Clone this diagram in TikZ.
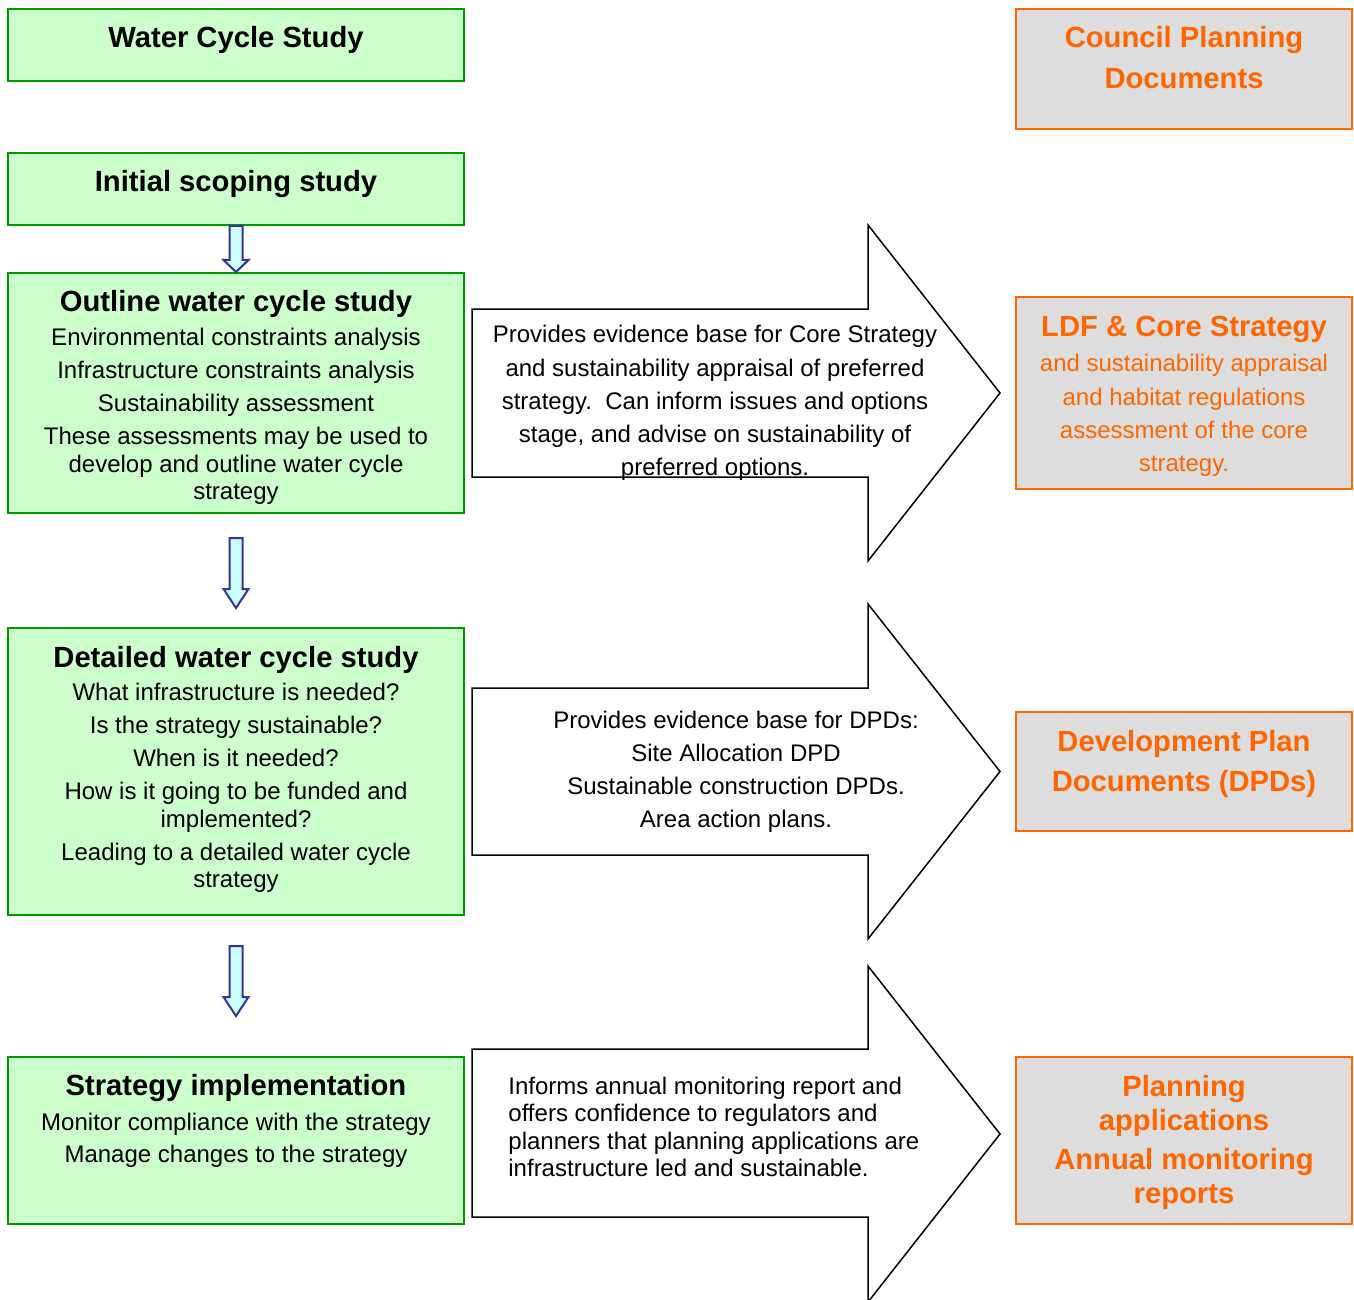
\documentclass[tikz,border=0pt]{standalone}
\usepackage{fontspec}
\setmainfont{Liberation Sans}
\usetikzlibrary{calc,fit}
\definecolor{boxgreen}{HTML}{CCFFCC}
\definecolor{linegreen}{HTML}{009900}
\definecolor{orng}{HTML}{FF6600}
\definecolor{boxgray}{HTML}{DDDDDD}
\definecolor{arrfill}{HTML}{CCFFFF}
\definecolor{arrline}{HTML}{333399}
\newcommand{\myDownArrow}[3]{%
  \draw[smallarr] ($(#1)+(-6.5,0)$) -- ($(#1)+(6.5,0)$) -- ($(#2)+(6.5,-#3)$) -- ($(#2)+(12.5,-#3)$) -- (#2) -- ($(#2)+(-12.5,-#3)$) -- ($(#2)+(-6.5,-#3)$) -- cycle;}
\begin{document}
\begin{tikzpicture}[x=0.5pt,y=-0.5pt,
  greenbox/.style={draw=linegreen, fill=boxgreen, line width=1pt, inner sep=0pt},
  graybox/.style={draw=orng, fill=boxgray, line width=1pt, inner sep=0pt},
  ttl/.style={font=\fontsize{14.6}{17}\selectfont\bfseries, anchor=base, inner sep=0pt},
  body/.style={font=\fontsize{12}{14}\selectfont, anchor=base, inner sep=0pt},
  otitle/.style={ttl, text=orng},
  obody/.style={body, text=orng},
  bigarrow/.style={draw=black, fill=white, line width=0.75pt, line join=miter},
  smallarr/.style={draw=arrline, fill=arrfill, line width=1pt, line join=miter}]
\useasboundingbox (0,0) rectangle (1354,1300);

% left column boxes
\node[greenbox, fit={(8,9) (464,81)}] (b1) {};
\node[greenbox, fit={(8,153) (464,225)}] (b2) {};
\node[greenbox, fit={(8,273) (464,513)}] (b3) {};
\node[greenbox, fit={(8,628) (464,915)}] (b4) {};
\node[greenbox, fit={(8,1057) (464,1224)}] (b5) {};

% right column boxes
\node[graybox, fit={(1016,9) (1352,129)}] (r1) {};
\node[graybox, fit={(1016,297) (1352,489)}] (r2) {};
\node[graybox, fit={(1016,712) (1352,831)}] (r3) {};
\node[graybox, fit={(1016,1057) (1352,1224)}] (r4) {};

% big arrows
\draw[bigarrow] (472,309) -- (868,309) -- (868,225) -- (1000,393) -- (868,561) -- (868,477) -- (472,477) -- cycle;
\draw[bigarrow] (472,688) -- (868,688) -- (868,604) -- (1000,771.5) -- (868,939) -- (868,855) -- (472,855) -- cycle;
\draw[bigarrow] (472,1049) -- (868,1049) -- (868,966) -- (1000,1134) -- (868,1302) -- (868,1217) -- (472,1217) -- cycle;

% small down arrows
\coordinate (a2s) at ($(b3.south)+(0,24)$);
\coordinate (a2e) at ($(b4.north)+(0,-19)$);
\coordinate (a3s) at ($(b4.south)+(0,30)$);
\coordinate (a3e) at ($(b5.north)+(0,-40)$);
\myDownArrow{b2.south}{b3.north}{12}
\myDownArrow{a2s}{a2e}{19}
\myDownArrow{a3s}{a3e}{19}

% left texts
\node[ttl] (t1) at (236,48) {Water Cycle Study};
\node[ttl] (t2) at (236,192) {Initial scoping study};
\node[ttl] (t3) at (236,312) {Outline water cycle study};
\foreach \yy/\tx [count=\i] in {345/{Environmental constraints analysis},378/{Infrastructure constraints analysis},411/{Sustainability assessment},444/{These assessments may be used to},472/{develop and outline water cycle},499/{strategy}}
  \node[body] (t3l\i) at (236,\yy) {\tx};
\node[ttl] (t4) at (236,667) {Detailed water cycle study};
\foreach \yy/\tx [count=\i] in {700/{What infrastructure is needed?},733/{Is the strategy sustainable?},766/{When is it needed?},799/{How is it going to be funded and},827/{implemented?},860/{Leading to a detailed water cycle},887/{strategy}}
  \node[body] (t4l\i) at (236,\yy) {\tx};
\node[ttl] (t5) at (236,1095) {Strategy implementation};
\node[body] (t5l1) at (236,1130) {Monitor compliance with the strategy};
\node[body] (t5l2) at (236,1162) {Manage changes to the strategy};

% right texts
\node[otitle] (s1a) at (1184,48) {Council Planning};
\node[otitle] (s1b) at (1184,89) {Documents};
\node[otitle] (s2) at (1184,336) {LDF \& Core Strategy};
\foreach \yy/\tx [count=\i] in {371/{and sustainability appraisal},405/{and habitat regulations},438/{assessment of the core},471/{strategy.}}
  \node[obody] (s2l\i) at (1184,\yy) {\tx};
\node[otitle] (s3a) at (1184,751) {Development Plan};
\node[otitle] (s3b) at (1184,791) {Documents (DPDs)};
\foreach \yy/\tx [count=\i] in {1096/{Planning},1130/{applications},1169/{Annual monitoring},1203/{reports}}
  \node[otitle] (s4l\i) at (1184,\yy) {\tx};

% arrow texts
\foreach \yy/\tx [count=\i] in {343/{Provides evidence base for Core Strategy},376/{and sustainability appraisal of preferred},409/{strategy.\ \ Can inform issues and options},442/{stage, and advise on sustainability of},475/{preferred options.}}
  \node[body] (p1l\i) at (715,\yy) {\tx};
\foreach \yy/\tx [count=\i] in {728/{Provides evidence base for DPDs:},761/{Site Allocation DPD},794/{Sustainable construction DPDs.},827/{Area action plans.}}
  \node[body] (p2l\i) at (736,\yy) {\tx};
\foreach \yy/\tx [count=\i] in {1094/{Informs annual monitoring report and},1121/{offers confidence to regulators and},1149/{planners that planning applications are},1176/{infrastructure led and sustainable.}}
  \node[body, anchor=base west] (p3l\i) at (508,\yy) {\tx};
\end{tikzpicture}
\end{document}
